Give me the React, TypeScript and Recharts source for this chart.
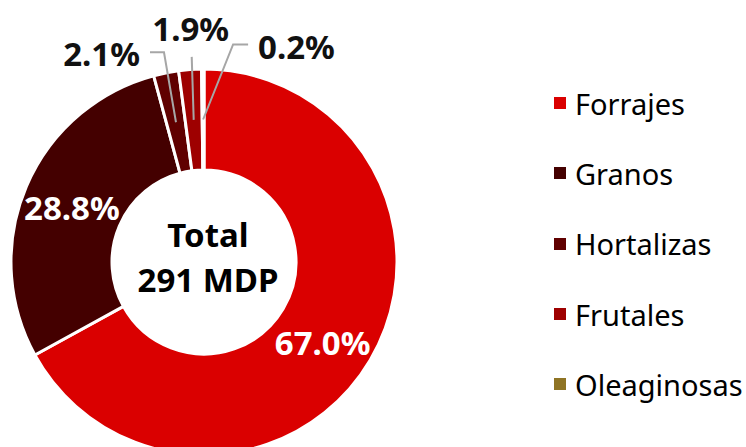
import React from 'react';
import { PieChart, Pie, Cell, Legend } from 'recharts';

const categories = ['Forrajes', 'Granos', 'Hortalizas', 'Frutales', 'Oleaginosas'];
const shares = [67.0, 28.8, 2.1, 1.9, 0.2];
const colors = ['#da0000', '#440000', '#600000', '#9e0000', '#8f7424'];
const totalLines = ['Total', '291 MDP'];

const data = categories.map((name, i) => ({ name, value: shares[i] }));

const FONT = '"Noto Sans", sans-serif';
const RAD = Math.PI / 180;
const CX = 204;
const CY = 262;

// nudges for the inside labels
const insideShift: Record<number, [number, number]> = { 0: [-4, 8], 1: [-1, 1] };

// leader line layout for the thin slices (offsets from the mid-ring anchor)
const leaders: Record<number, { dx: number; dy: number; tail: number; anchor: string; tx: number; ty: number }> = {
  2: { dx: -12, dy: -70, tail: -14, anchor: 'end', tx: -10, ty: 1 },
  3: { dx: -2, dy: -63, tail: 0, anchor: 'middle', tx: -1, ty: -28 },
  4: { dx: 30, dy: -75, tail: 15, anchor: 'start', tx: 10, ty: 2 },
};

const renderLabel = (props: any) => {
  const { cx, cy, midAngle, innerRadius, outerRadius, index, value } = props;
  const r = (innerRadius + outerRadius) / 2;
  const x = cx + r * Math.cos(-midAngle * RAD);
  const y = cy + r * Math.sin(-midAngle * RAD);
  const txt = `${Number(value).toFixed(1)}%`;
  const lead = leaders[index];
  if (!lead) {
    const [sx, sy] = insideShift[index] || [0, 0];
    return (
      <text x={x + sx} y={y + sy} fill="#fff" textAnchor="middle" dominantBaseline="central"
        fontFamily={FONT} fontWeight={700} fontSize={33}>
        {txt}
      </text>
    );
  }
  const ex = x + lead.dx;
  const ey = y + lead.dy;
  const tx = ex + lead.tail;
  return (
    <g>
      <polyline points={`${x},${y} ${ex},${ey} ${tx},${ey}`} fill="none" stroke="#a6a6a6" strokeWidth={2} />
      <text x={tx + lead.tx} y={ey + lead.ty} fill="#111" textAnchor={lead.anchor} dominantBaseline="central"
        fontFamily={FONT} fontWeight={700} fontSize={33}>
        {txt}
      </text>
    </g>
  );
};

const renderLegend = () => (
  <div style={{ fontFamily: FONT }}>
    {categories.map((name, i) => (
      <div key={name} style={{ display: 'flex', alignItems: 'center', height: 70.3 }}>
        <span style={{ width: 12, height: 12, background: colors[i], display: 'inline-block', marginRight: 9 }} />
        <span style={{ fontSize: 29, color: '#000' }}>{name}</span>
      </div>
    ))}
  </div>
);

export default function App() {
  return (
    <div style={{ position: 'absolute', left: 0, top: 0, background: '#fff' }}>
      <PieChart width={746} height={447} margin={{ top: 0, right: 0, bottom: 0, left: 0 }}>
        <Pie
          data={data}
          dataKey="value"
          nameKey="name"
          cx={CX}
          cy={CY}
          innerRadius={92}
          outerRadius={193}
          startAngle={90}
          endAngle={-270}
          stroke="#fff"
          strokeWidth={3}
          label={renderLabel}
          labelLine={false}
          isAnimationActive={false}
        >
          {data.map((d, i) => (
            <Cell key={d.name} fill={colors[i]} />
          ))}
        </Pie>
        <text x={CX + 4} y={CY} textAnchor="middle" fontFamily={FONT} fontWeight={700} fontSize={33} fill="#000">
          <tspan x={CX + 4} dy={-15}>{totalLines[0]}</tspan>
          <tspan x={CX + 4} dy={45}>{totalLines[1]}</tspan>
        </text>
        <Legend
          layout="vertical"
          content={renderLegend}
          wrapperStyle={{ left: 554, top: 68, width: 192 }}
        />
      </PieChart>
    </div>
  );
}
